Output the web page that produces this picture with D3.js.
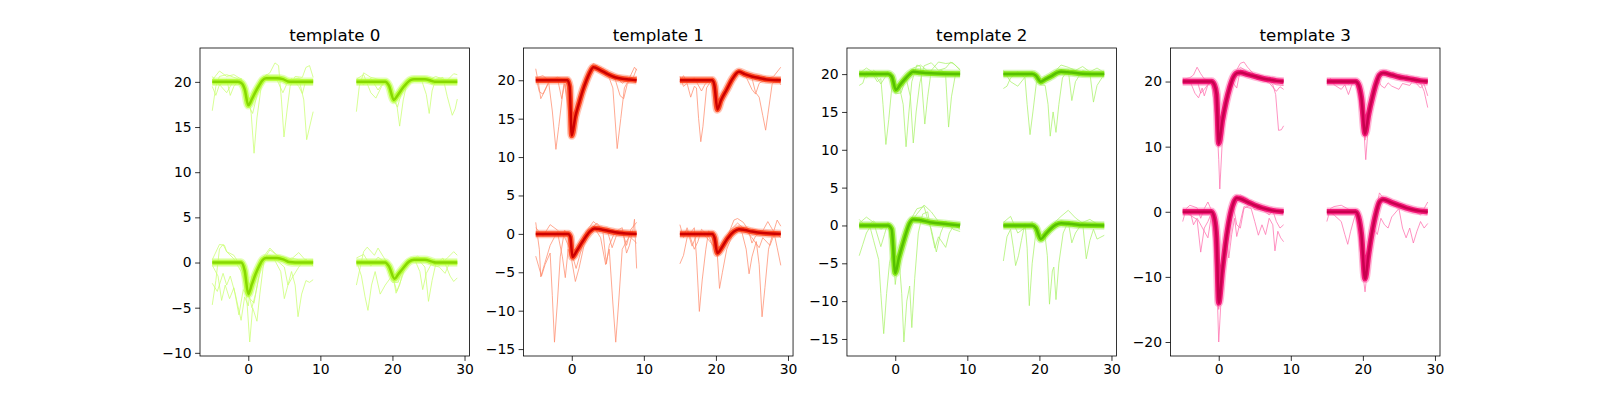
<!DOCTYPE html>
<html>
<head>
<meta charset="utf-8">
<script src="https://cdn.jsdelivr.net/npm/d3@7"></script>
<style>
  body { margin: 0; background: #fff; }
  svg { display: block; }
  .tick text { font-family: 'DejaVu Sans', sans-serif; font-size: 13.9px; fill: #000; }
  .tick line { stroke: #000; stroke-width: 0.8; }
  .title { font-family: 'DejaVu Sans', sans-serif; font-size: 16.7px; fill: #000; }
</style>
</head>
<body>
<div id="chart"></div>
<script>
// panel titles, axis ticks and ranges
const titles = ['template 0', 'template 1', 'template 2', 'template 3'];
const xTicks = [0, 10, 20, 30];
const xDomain = [-6.7, 30.7];
const yTicks = [
  [-10, -5, 0, 5, 10, 15, 20],
  [-15, -10, -5, 0, 5, 10, 15, 20],
  [-15, -10, -5, 0, 5, 10, 15, 20],
  [-20, -10, 0, 10, 20],
];
const yDomains = [[-10.35, 23.75], [-15.9, 24.2], [-17.25, 23.45], [-22.15, 25.15]];

// channel positions on the probe (x shift, y shift)
const channelOffsets = [[0, 20], [20, 20], [0, 0], [20, 0]];

// mean waveform per channel, [t, value] relative to channel baseline
const templates0 = [
  [[-5,0],[-1.5,0],[-1,-0.1],[-0.5,-0.8],[0,-2.6],[0.5,-1.9],[1,-1.1],[1.5,-0.4],[2,0.2],[2.5,0.4],[4,0.4],[4.8,0.3],[5.5,0.05],[6,0],[9,0]],
  [[-5,0],[-1,0],[-0.5,-0.4],[0.2,-2.0],[0.7,-1.5],[1.5,-0.6],[2.5,0.2],[3,0.3],[4.5,0.3],[5.5,0.1],[6,0],[9,0]],
  [[-5,0],[-1,0],[-0.5,-0.9],[0,-3.5],[0.5,-2.4],[1,-1.3],[1.5,-0.4],[2,0.3],[2.5,0.5],[4,0.5],[5,0.3],[5.7,0.05],[6.5,0],[9,0]],
  [[-5,0],[-1,0],[-0.5,-0.4],[0.3,-1.8],[0.8,-1.3],[1.5,-0.6],[2.3,0.1],[3,0.3],[4.5,0.3],[5.5,0.1],[6,0],[9,0]],
];
const templates1 = [
  [[-5,0],[-0.6,0],[-0.3,-0.8],[0,-7.2],[0.5,-4.7],[1,-3],[1.5,-1.4],[2,-0.1],[2.5,1],[3,1.7],[4,1.3],[5,0.8],[6,0.4],[7,0.2],[8,0.1],[9,0]],
  [[-5,0],[-0.5,0],[-0.2,-0.7],[0.2,-3.8],[0.7,-2.6],[1.5,-1.2],[2.3,0.2],[3.2,1.1],[4,0.8],[5,0.5],[6,0.3],[7,0.1],[9,0]],
  [[-5,0],[-0.5,0],[-0.2,-0.4],[0.1,-3],[0.7,-2.2],[1.5,-1],[2.5,0.3],[3.2,0.7],[4,0.6],[5,0.4],[6,0.2],[7.5,0.05],[9,0]],
  [[-5,0],[-0.5,0],[-0.2,-0.5],[0.2,-2.5],[0.8,-1.8],[1.6,-0.6],[2.5,0.3],[3.2,0.6],[4,0.5],[5,0.3],[6.5,0.1],[9,0]],
];
const templates2 = [
  [[-5,0],[-1,0],[-0.5,-0.3],[0.1,-2.1],[0.6,-1.5],[1.3,-0.7],[2,0],[2.5,0.3],[3.5,0.2],[5,0.1],[9,0]],
  [[-5,0],[-1,0],[-0.5,-0.2],[0.2,-1.0],[0.8,-0.7],[1.6,-0.3],[2.5,0.2],[3,0.3],[4.5,0.2],[6,0.05],[9,0]],
  [[-5,0],[-1,0],[-0.5,-0.5],[0,-6.3],[0.5,-4.3],[1,-2.6],[1.5,-1],[2,0.3],[2.5,0.8],[3.5,0.7],[5,0.4],[7,0.2],[9,0]],
  [[-5,0],[-1,0],[-0.5,-0.3],[0.2,-1.8],[0.8,-1.2],[1.5,-0.5],[2.3,0.1],[3,0.3],[4.5,0.2],[6,0.05],[9,0]],
];
const templates3 = [
  [[-5,0],[-1,0],[-0.6,-0.5],[-0.3,-2],[0,-9.5],[0.5,-6],[1,-3.2],[1.5,-1],[2,0.6],[2.5,1.3],[3,1.4],[4,1.1],[5,0.8],[6,0.5],[7,0.3],[8,0.1],[9,0]],
  [[-5,0],[-1,0],[-0.6,-0.5],[-0.2,-2.5],[0.3,-8],[0.8,-5],[1.3,-2.5],[1.8,-0.4],[2.3,1],[2.8,1.3],[4,1],[5,0.7],[6,0.5],[7,0.3],[8,0.1],[9,0]],
  [[-5,0],[-1,0],[-0.6,-1],[-0.3,-4],[0,-14],[0.5,-9],[1,-4.5],[1.5,-1],[2,1.2],[2.5,2.1],[3,2],[4,1.5],[5,1],[6,0.6],[7,0.3],[8,0.1],[9,0]],
  [[-5,0],[-1,0],[-0.6,-0.8],[-0.2,-3.5],[0.3,-10.3],[0.8,-6.5],[1.3,-3],[1.8,-0.3],[2.3,1.5],[2.8,1.9],[4,1.4],[5,1],[6,0.6],[7,0.3],[8,0.1],[9,0]],
];

// single spikes that stand out from the cluster, per channel
const outliers0 = [
  [
    [[-5,-3.2],[-4.5,-0.5],[-4,0.6],[-3,0.8],[-2,0.5],[-1,0.2],[0,-1.5],[0.4,-3.5],[0.8,-7.9],[1.2,-4],[1.8,-0.5],[2.5,0.5],[3.5,0.4],[4.5,0.2],[6,0.3],[7,0.4],[8,0.1],[9,0.2]],
    [[-5,0.2],[-4,1.2],[-3,0.6],[-2,0.8],[-1,0.3],[0,-1.8],[0.5,-2.4],[1,-1],[2,0.5],[3,1],[3.7,2.1],[4.2,1.8],[4.6,-2],[4.95,-6.1],[5.4,-3],[5.8,-0.5],[6.5,0.6],[7.5,0.5],[8,1.6],[8.5,1.8],[9,0.5]],
    [[-5,-0.5],[-4.5,-1.5],[-4,-0.3],[-3,-1.2],[-2,0.2],[-1,0.1],[0,-2.5],[0.6,-3.5],[1.2,-1.5],[2,0],[3,0.4],[4,0.3],[5,0.1],[6,0.2],[7,0.4],[7.7,-2],[8.1,-6.4],[8.5,-5],[9,-3.3]],
    [[-5,0.6],[-4,-0.4],[-3,0.3],[-2.5,-1.5],[-2,-0.5],[-1,0.4],[0,-2],[0.5,-1.5],[1.5,0],[2.5,0.8],[3,0.6],[4,0.2],[4.8,-1.2],[5.3,-0.3],[6,0.4],[7,-0.5],[7.5,-1.3],[8,0.2],[9,0.1]],
  ],
  [
    [[-5,-3.3],[-4.6,-0.5],[-4,1],[-3,0.5],[-2,0.3],[-1,0.2],[0,-1.6],[0.6,-2.5],[1,-4.9],[1.5,-2],[2,-0.2],[3,0.4],[4,0.5],[5,0.2],[6,0.6],[7,0.3],[8,0],[9,0.2]],
    [[-5,0.3],[-4,0.8],[-3,-1.2],[-2.3,-1.8],[-1.5,-0.5],[-1,0.1],[0,-1.5],[1,-0.9],[2,0.2],[3,0.5],[4,0.3],[4.7,-1.4],[5.1,-3.5],[5.5,-1],[6,0.3],[7,0.5],[7.6,-1.6],[8.3,-3.7],[8.7,-3],[9,-1.9]],
    [[-5,0.2],[-4,-0.3],[-3,0.4],[-2,-0.9],[-1,0.2],[0,-1.8],[0.7,-2.8],[1.5,-0.5],[2.5,0.5],[3.5,0.2],[4.5,0.3],[5.5,-0.3],[6.5,0.4],[7.5,0.1],[8.5,0.9],[9,0.8]],
  ],
  [
    [[-5,-4.7],[-4.5,-2],[-4,1.5],[-3.5,2],[-3,1.2],[-2,0.4],[-1,-1],[-0.3,-3],[0.2,-8.8],[0.6,-5],[1.2,-6.5],[1.6,-3.5],[2.2,0.4],[3,1.4],[4,0.8],[5,0.2],[6,0.5],[7,0.3],[8,0.2],[9,0.1]],
    [[-5,-2.3],[-4.3,-3.2],[-3.5,-1.2],[-3,-2.5],[-2.5,-1.5],[-1.8,-3.5],[-1,-6.4],[-0.5,-3.8],[0,-4.8],[0.5,-1.5],[1.5,0],[2.5,0.5],[3.5,0.5],[4.5,-1],[5,-4],[5.5,-2.5],[6,-1],[6.5,-2.5],[6.9,-6],[7.4,-3.5],[8,-2],[8.5,-2.2],[9,-1.9]],
    [[-5,0.3],[-4,2],[-3.3,1.9],[-3,1.2],[-2,0.8],[-1,-0.5],[0,-3.2],[0.5,-5],[1,-3.5],[1.6,-1.2],[2,0.5],[3,1.6],[4,0.8],[5,0.6],[6,0.4],[7,1.1],[8,0.2],[9,0.3]],
    [[-5,-0.3],[-4.2,-1.5],[-3.7,-4.2],[-3.2,-2.5],[-2.6,-4],[-2,-2.8],[-1.3,-5.8],[-0.7,-3],[0,-3.8],[0.8,-4.5],[1.3,-2.2],[2,0.5],[3,0.8],[4,0.2],[5,-0.5],[5.5,-2.5],[6,-1.8],[7,-0.5],[8,0.4],[9,-0.4]],
  ],
  [
    [[-5,-2.5],[-4.6,-1],[-4,1.2],[-3.5,1.7],[-2.5,0.8],[-2,1.6],[-1,0.3],[0,-1.2],[0.5,-3.4],[1,-2.5],[1.5,-0.8],[2.5,0.3],[3.5,0.4],[4.5,-0.5],[5,-4.3],[5.5,-2],[6,-0.2],[7,0.5],[8,-1.5],[8.5,-2.1],[9,-1.7]],
    [[-5,0.2],[-4.3,-1.5],[-3.8,-3.8],[-3.4,-5.3],[-2.9,-2.5],[-2.4,-1],[-1.7,-3.5],[-1,-2.5],[0,-1.4],[0.6,-3.2],[1.4,-1.5],[2,0.2],[3,0.5],[3.8,-1],[4.2,-3],[4.7,-1.2],[5.5,0],[6.5,-0.3],[7.5,0.4],[8.5,1.2],[9,0.8]],
    [[-5,0.5],[-4,0.9],[-3,-0.4],[-2,0.6],[-1,0],[0,-2.2],[0.8,-2.2],[1.5,-0.3],[2.5,0.3],[3.5,0.7],[4.5,0.2],[5.5,-0.3],[6.5,-0.5],[7.3,-1.2],[8,0.1],[9,-0.1]],
  ],
];
const outliers1 = [
  [
    [[-5,1.5],[-4.6,-0.5],[-4.3,-2.4],[-3.8,-1.5],[-3.2,-0.3],[-2.7,-4],[-2.2,-9],[-1.8,-6],[-1.3,-2],[-1,0.2],[-0.3,-0.5],[0,-7.5],[0.5,-4.5],[1.5,-1.3],[2.5,1],[3,1.9],[4,1.4],[5,0.8],[5.7,-1],[6.3,-8.9],[6.8,-5],[7.3,-1],[8,0.2],[9,0.4]],
    [[-5,0.5],[-4.5,-1.5],[-4,-1.8],[-3,0.2],[-2,0.3],[-1.4,-2.4],[-1,-0.5],[0,-7],[1,-2.8],[2,0],[3,1.6],[4,1.2],[5,0.4],[6,0.2],[6.7,-2],[7.2,-2.4],[7.7,-0.5],[8.5,0.3],[9,1.5]],
    [[-5,0.3],[-4,0.6],[-3,-0.2],[-2,0.4],[-1,0.1],[0,-6.5],[1,-2.5],[2,0.4],[3,2.2],[4,1.6],[5,1],[6,0.6],[7,-0.4],[8,0.3],[8.7,1.7],[9,1.3]],
  ],
  [
    [[-5,0.5],[-4.5,-0.8],[-4,-0.4],[-3.5,-2.2],[-3,-0.8],[-2.7,-1],[-2.4,-5],[-2.1,-8],[-1.8,-6],[-1.3,-1],[-0.5,0.2],[0.2,-3.3],[1,-2],[2,0],[3,1.3],[4,0.9],[5,0.3],[5.5,-1.6],[6,-2.2],[6.5,-4.6],[6.9,-6.5],[7.2,-4.5],[7.8,-0.5],[8.5,0.3],[9,-0.6]],
    [[-5,-0.2],[-4.5,0.6],[-4,-0.3],[-3,0.3],[-2,-1.4],[-1.5,-0.5],[-0.5,0.3],[0.2,-4],[1,-2.4],[2,0.1],[3,1.2],[4,0.8],[5,-1.2],[5.5,-1.8],[6,-0.4],[7,0.2],[8,0.5],[9,1.7]],
  ],
  [
    [[-5,-2.9],[-4.6,-4.2],[-4.2,-5.5],[-3.7,-4],[-3,-2.5],[-2.7,-8],[-2.4,-14.1],[-2,-9],[-1.6,-3],[-1,0.5],[-0.2,-0.5],[0.2,-3.5],[1,-2],[2,0],[3,1],[4,-0.5],[4.7,-4],[5.2,-2],[5.7,-9],[6.1,-14.1],[6.5,-9],[7,-2],[8,-0.3],[9,-1.2]],
    [[-5,1.5],[-4.5,-2],[-4.3,-5.6],[-3.8,-4],[-3,-1.5],[-2,0.3],[-1.3,-3],[-0.9,-5.7],[-0.5,-2],[0,-3.5],[0.5,-6.2],[1,-4.5],[1.7,-1.5],[2.5,0.5],[3.5,1.4],[4.3,0.5],[4.8,-3.9],[5.2,-1.5],[6,0.3],[7,0.8],[7.6,-2.5],[8,-1.5],[8.5,0.6],[8.7,1.9],[9,-4.5]],
    [[-5,0.8],[-4,-0.3],[-3,1.2],[-2,0.5],[-1,-0.4],[0,-2.5],[0.6,-4.5],[1.2,-2.5],[2,0.3],[3,1.6],[4,0.8],[5,0.2],[5.6,-1.8],[6.2,-0.2],[7,0.4],[7.6,-1.5],[8.2,0.6],[9,1.5]],
  ],
  [
    [[-5,-3.9],[-4.5,-2.8],[-4,-0.5],[-3,0.8],[-2.7,-3],[-2.3,-10.1],[-1.9,-6],[-1.4,-2],[-1,0.4],[0,-1.5],[0.2,-2.8],[0.5,-7.1],[0.9,-5],[1.5,-2],[2.5,0.3],[3.5,0.6],[4.2,-2],[4.6,-5.2],[5,-3],[5.6,-1],[6,-4],[6.4,-10.8],[6.8,-7],[7.3,-2],[8,0.4],[8.5,-1.8],[9,-4.1]],
    [[-5,1.2],[-4.5,-0.5],[-4,0.8],[-3,-2],[-2.5,-1],[-2,0.6],[-1,-0.3],[0.2,-3],[1,-1.8],[2,0.6],[2.5,1.8],[3,2],[3.8,1.5],[4.5,0.5],[5,-1.2],[5.5,-0.3],[6.5,0.4],[7.2,1.6],[8,0.3],[8.5,1.8],[9,1]],
    [[-5,-0.3],[-4,0.5],[-3.3,-1.6],[-2.8,-0.4],[-2,0.2],[-1,-0.8],[0.2,-2.2],[1.2,-1.2],[2,0.5],[3,1.4],[4,0.6],[5,-0.5],[6,-1.8],[6.5,-0.5],[7.5,-1.5],[8.2,0.2],[9,-0.5]],
  ],
];
const outliers2 = [
  [
    [[-5,-1.5],[-4.5,-1.2],[-4,0.3],[-3,-0.2],[-2.5,-1],[-2,-0.6],[-1.7,-4],[-1.3,-9.3],[-0.9,-6],[-0.4,-1],[0,-2.2],[0.6,-1.5],[1.5,-0.3],[2.5,0.8],[3.5,1.2],[4.5,0.4],[5.5,0.2],[6.5,0.5],[7,-0.3],[7.4,-7],[7.8,-3],[8.4,0.2],[9,0.3]],
    [[-5,0.4],[-4,-0.5],[-3,0.5],[-2,-0.2],[-1,0.3],[0,-2.3],[0.6,-1.8],[1.1,-4],[1.5,-9.6],[1.9,-5],[2.3,-1],[3,1.2],[3.5,1],[4.1,-6.6],[4.5,-3],[5,0.5],[6,1.6],[7,1.4],[8,1.5],[9,0.5]],
    [[-5,0.1],[-4,0.8],[-3,0.2],[-2,-1.3],[-1,0.2],[0,-2.6],[0.8,-2.5],[1.5,-0.5],[2.1,-3],[2.5,-9.1],[2.9,-5],[3.4,-1.2],[4,1.1],[5,1.5],[6,0.5],[7,0.8],[7.7,1.6],[8.3,1.2],[9,0.6]],
  ],
  [
    [[-5,-1.9],[-4.5,-1.6],[-4,-0.5],[-3,0.3],[-2,-0.5],[-1.7,-4],[-1.3,-8],[-0.9,-5],[-0.4,-1],[0.2,-1.4],[0.8,-1.5],[1.2,-4],[1.5,-8.2],[1.9,-5],[2.3,-7.7],[2.7,-4],[3.2,-0.5],[4,0.6],[4.5,-3.5],[5,-1],[6,0.5],[7,0.2],[7.5,-3.7],[8,-1.5],[9,0]],
    [[-5,0.5],[-4,-1],[-3,-1.6],[-2,-0.4],[-1,0.2],[0.2,-1.3],[1,-0.8],[2,0.2],[3,1.2],[4,0.9],[5,0.5],[6,1],[7,0.3],[8,0.8],[9,0.2]],
  ],
  [
    [[-5,-4],[-4.5,-2.5],[-4,-1],[-3.5,-0.2],[-3,-2],[-2.3,-4.5],[-2,-9],[-1.6,-14.3],[-1.2,-9],[-0.8,-5],[-0.3,-3],[0,-7.8],[0.5,-4],[1.2,-2],[2,0.2],[3,1.5],[4,2.7],[5,1.8],[6,0.5],[7,0.4],[8,0.2],[9,-0.5]],
    [[-5,0.8],[-4,-0.2],[-3,0.6],[-2,-0.5],[-1,0.1],[0,-5.5],[0.5,-4],[0.9,-9],[1.2,-15.4],[1.6,-10],[2,-8],[2.3,-13.5],[2.7,-7],[3.2,-1],[3.8,1.5],[4.5,1.8],[5,-0.8],[5.5,-3],[6,-1.5],[7,-2.9],[7.5,-1],[8,-0.2],[9,0.3]],
    [[-5,0.3],[-4,1.1],[-3,0.4],[-2,-2.8],[-1.5,-1.2],[-1,0.4],[0,-6],[0.6,-4],[1.3,-1.5],[2,0.5],[3,2.2],[4,2.5],[4.5,0.8],[5,-0.5],[5.7,-3.5],[6.3,-1],[7,0.6],[8,-0.5],[9,-0.8]],
  ],
  [
    [[-5,-4.7],[-4.5,-1.5],[-4,-0.5],[-3.6,-3],[-3.3,-5.3],[-2.9,-4],[-2.5,-2],[-2,0.3],[-1.7,-3],[-1.4,-10.6],[-1,-5],[-0.5,-1],[0.2,-1.8],[1,-1.2],[2,0.3],[3,1.2],[4,2],[5,1],[6,0.3],[6.5,-4.4],[7,-2],[7.5,-0.5],[8,-1.8],[9,-1.3]],
    [[-5,0.4],[-4,1.2],[-3,-1],[-2,-0.3],[-1,0.5],[0.2,-1.9],[0.8,-1.5],[1.1,-4],[1.4,-10.4],[1.8,-6],[2,-5.5],[2.3,-9.8],[2.7,-5],[3.3,-1],[4,0.5],[4.5,-2.3],[5,-1],[6,0.4],[7,0.8],[8,0.2],[9,-0.3]],
  ],
];
const outliers3 = [
  [
    [[-5,0.3],[-4,0.6],[-3.5,1],[-3,2.2],[-2.5,1.2],[-2,0.4],[-1,0.1],[-0.4,-3],[0,-12],[0.15,-16.5],[0.5,-9],[1,-4],[1.5,-1.2],[2,0.8],[3,2.8],[3.5,3],[4,2.2],[5,1],[6,0.3],[7,0.1],[8,-0.5],[9,-0.6]],
    [[-5,-0.2],[-4,0.1],[-3.3,-1.8],[-2.8,-2.5],[-2.3,-1],[-2,-2.2],[-1.5,-0.5],[-1,-0.2],[0,-8.5],[0.5,-6],[1,-3.5],[1.5,-1.5],[2,-0.2],[2.5,-1],[3,1.8],[4,1],[5,0.7],[6,0.3],[7,0.2],[7.5,-0.5],[7.9,-2],[8.3,-7.5],[8.7,-7.4],[9,-6.8]],
    [[-5,0.5],[-4,-0.3],[-3,0.2],[-2.5,-1.8],[-2,-1.2],[-1,0.3],[0,-10],[1,-3],[2,1],[3,2.2],[4,1.5],[5,0.5],[6,0.2],[7,-0.2],[8,-1.5],[8.5,-0.8],[9,-1.2]],
  ],
  [
    [[-5,0.4],[-4,-0.2],[-3,0.3],[-2,-0.4],[-1,0.2],[0,-5],[0.4,-12],[0.8,-6],[1.5,-1.5],[2,0.5],[3,1.6],[4,1.2],[5,0.5],[6,0.6],[7,0.2],[8,-0.2],[8.5,-1.5],[9,-4]],
    [[-5,-0.3],[-4.5,0.5],[-4,-0.5],[-3,-1.2],[-2.5,-0.5],[-2,-2],[-1.5,-0.4],[-1,0.2],[0.3,-9],[1,-4],[2,0.5],[2.5,-0.6],[3,-1],[3.5,-0.2],[4,-0.7],[5,-1.2],[5.5,-0.3],[6.5,-0.6],[7,0.2],[8,-1],[8.5,-0.4],[9,-2.2]],
  ],
  [
    [[-5,-1.5],[-4.5,0.5],[-4,1],[-3,0.6],[-2.5,-1],[-2,0.5],[-1.5,1.5],[-1,0.2],[-0.4,-6],[0,-20],[0.4,-12],[1,-5],[1.5,-2],[2,0.5],[3,2.6],[4,2],[5,1],[6,0.5],[7,0.2],[8,0.1],[9,0]],
    [[-5,0.2],[-4,-0.5],[-3,-1.2],[-2.5,-6.2],[-2,-2.5],[-1.5,-1.5],[-1,-0.2],[0,-13],[0.5,-8],[1,-4],[1.4,-7.1],[1.8,-3.5],[2.2,-1],[2.5,-3.8],[3,-1.5],[3.5,0.8],[4.5,0.5],[5,-1.5],[5.5,-3.6],[6,-2],[6.5,-3.5],[7,-1],[7.5,-2],[7.8,-6],[8.2,-3],[8.6,-4],[9,-4.6]],
    [[-5,0.4],[-4,0.2],[-3.5,-2],[-3,-1],[-2,-3],[-1.5,-4],[-1,-0.5],[0,-15],[0.5,-9],[1,-4.5],[1.5,-1],[2,1],[2.5,-2],[3,-2.5],[3.5,0.5],[4.5,1.2],[5,0.3],[6,0.4],[7,-0.5],[7.5,0.2],[8,-1.5],[8.5,-2.5],[9,-2]],
  ],
  [
    [[-5,-1.5],[-4.5,0.5],[-4,0.8],[-3,1],[-2,0.4],[-1,-0.2],[0.3,-12.3],[0.8,-7],[1.5,-1.5],[2.3,2.9],[3,1.8],[4,1],[5,0.5],[6,0.4],[7,0.2],[8,-0.5],[9,1.5]],
    [[-5,0.3],[-4,-0.5],[-3,-1.5],[-2.5,-3.5],[-2.1,-5],[-1.7,-3],[-1,-0.2],[0.3,-9],[1,-4],[1.5,-2.5],[2,-3.5],[2.5,-1],[3,-2],[3.5,-2.5],[4,-0.8],[5,0.5],[5.5,-2.5],[6,-4],[6.5,-2.5],[7,-4.8],[7.5,-3],[8,-1.5],[8.5,-2.5],[9,-1.8]],
  ],
];

const templates = [templates0, templates1, templates2, templates3];
const outliers = [outliers0, outliers1, outliers2, outliers3];

// light trace colour, cluster colour, mean colour
const palettes = [
  { trace: '#c9ff70', band: '#b4ff30', mean: '#86d800' },
  { trace: '#ff8c6e', band: '#ff3a10', mean: '#cc0000' },
  { trace: '#aaf26a', band: '#7ae600', mean: '#55c000' },
  { trace: '#ff6fae', band: '#f2006a', mean: '#c8004e' },
];

const width = 1600;
const height = 400;
const axW = 1240 / 4.6;
const gap = axW * 0.2;
const axTop = 48;
const axBottom = 356;

const svg = d3.select('#chart').append('svg')
  .attr('width', width)
  .attr('height', height);

const fmt = d => (d < 0 ? '\u2212' + Math.abs(d) : String(d));

titles.forEach((title, p) => {
  const left = 200 + p * (axW + gap);
  const x = d3.scaleLinear().domain(xDomain).range([left, left + axW]);
  const y = d3.scaleLinear().domain(yDomains[p]).range([axBottom, axTop]);
  const pal = palettes[p];
  const g = svg.append('g');

  const toAbs = (pts, c) => pts.map(([t, v]) => [t + channelOffsets[c][0], v + channelOffsets[c][1]]);
  const line = d3.line().x(d => x(d[0])).y(d => y(d[1]));
  const smooth = d3.line().x(d => x(d[0])).y(d => y(d[1])).curve(d3.curveMonotoneX);

  // stray spikes
  outliers[p].forEach((traces, c) => {
    traces.forEach(tr => {
      g.append('path')
        .attr('d', line(toAbs(tr, c)))
        .attr('fill', 'none')
        .attr('stroke', pal.trace)
        .attr('stroke-width', 1)
        .attr('stroke-opacity', 0.75)
        .attr('stroke-linejoin', 'round');
    });
  });

  // dense cluster around the mean
  templates[p].forEach((tm, c) => {
    const pts = toAbs(tm, c);
    g.append('path')
      .attr('d', smooth(pts))
      .attr('fill', 'none')
      .attr('stroke', pal.trace)
      .attr('stroke-width', 8.5)
      .attr('stroke-opacity', 0.5);
    g.append('path')
      .attr('d', smooth(pts))
      .attr('fill', 'none')
      .attr('stroke', pal.band)
      .attr('stroke-width', 5.5)
      .attr('stroke-opacity', 0.85);
  });

  // mean waveform
  templates[p].forEach((tm, c) => {
    g.append('path')
      .attr('d', smooth(toAbs(tm, c)))
      .attr('fill', 'none')
      .attr('stroke', pal.mean)
      .attr('stroke-width', 2.5)
      .attr('stroke-linejoin', 'round');
  });

  const xAxis = d3.axisBottom(x).tickValues(xTicks).tickSize(4.9).tickPadding(3.5).tickFormat(fmt);
  g.append('g')
    .attr('transform', `translate(0,${axBottom})`)
    .call(xAxis)
    .select('.domain').remove();

  const yAxis = d3.axisLeft(y).tickValues(yTicks[p]).tickSize(4.9).tickPadding(3.5).tickFormat(fmt);
  g.append('g')
    .attr('transform', `translate(${left},0)`)
    .call(yAxis)
    .select('.domain').remove();

  g.append('rect')
    .attr('x', left)
    .attr('y', axTop)
    .attr('width', axW)
    .attr('height', axBottom - axTop)
    .attr('fill', 'none')
    .attr('stroke', '#000')
    .attr('stroke-width', 0.8);

  g.append('text')
    .attr('class', 'title')
    .attr('x', left + axW / 2)
    .attr('y', axTop - 7)
    .attr('text-anchor', 'middle')
    .text(title);
});
</script>
</body>
</html>
